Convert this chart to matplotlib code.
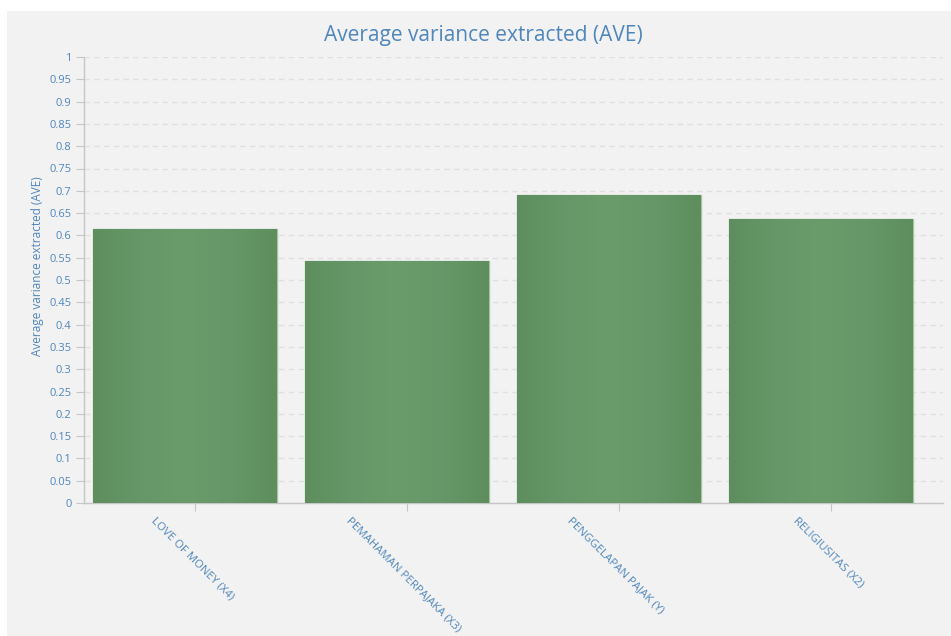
import matplotlib
matplotlib.use("Agg")
import matplotlib.pyplot as plt
import numpy as np
from matplotlib.patches import Rectangle
from matplotlib.transforms import ScaledTranslation

categories = ["LOVE OF MONEY (X4)", "PEMAHAMAN PERPAJAKA (X3)", "PENGGELAPAN PAJAK (Y)", "RELIGIUSITAS (X2)"]
values = [0.614, 0.543, 0.690, 0.637]
yticks = [round(0.05 * i, 2) for i in range(21)]
ytick_labels = ["0"] + [("%g" % t) for t in yticks[1:]]
title = "Average variance extracted (AVE)"
ylabel = "Average variance extracted (AVE)"

plt.rcParams["font.family"] = ["Open Sans", "DejaVu Sans"]
blue = "#4f86bb"
W, H = 951, 636
fig = plt.figure(figsize=(W / 100, H / 100), dpi=100, facecolor="white")
fig.patches.append(Rectangle((7 / W, 0), 1, 1 - 11 / H, transform=fig.transFigure,
                             facecolor="#f2f2f2", edgecolor="none", zorder=-10))

ax = fig.add_axes([84 / W, 1 - 503 / H, (943 - 84) / W, (503 - 57) / H])
ax.set_facecolor("none")

x = np.arange(len(categories))
offset = -10 / 212
width = 184 / 212
cmap = matplotlib.colors.LinearSegmentedColormap.from_list(
    "g", ["#5e8e5e", "#659768", "#699b6b", "#659768", "#5e8e5e"])
grad = np.linspace(0, 1, 200).reshape(1, -1)
bars = ax.bar(x + offset, values, width=width, color="#649668", edgecolor="#a7c5a4",
              linewidth=1.0, zorder=3)
for b in bars:
    im = ax.imshow(grad, cmap=cmap, aspect="auto", zorder=3.5,
                   extent=(b.get_x(), b.get_x() + b.get_width(), 0, b.get_height()))
    im.set_clip_path(b)

ax.set_xlim((84 - 195) / 212, (943 - 195) / 212)
ax.set_ylim(0, 1)
ax.set_yticks(yticks)
ax.set_yticklabels(ytick_labels, fontsize=8, color=blue)
ax.set_xticks(x)
ax.set_xticklabels([])
lbl_tr = ax.get_xaxis_transform() + ScaledTranslation(-0.03, -0.12, fig.dpi_scale_trans)
for xi, cat in zip(x, categories):
    ax.text(xi, 0, cat, transform=lbl_tr, fontsize=8.2, color=blue, rotation=-45,
            ha="center", va="top", clip_on=False)

ax.yaxis.grid(True, color="#e0e0e0", linestyle=(0, (4, 3)), linewidth=1.0, zorder=1)
ax.set_axisbelow(True)
for s in ["top", "right"]:
    ax.spines[s].set_visible(False)
for s in ["left", "bottom"]:
    ax.spines[s].set_color("#c6c6c6")
    ax.spines[s].set_linewidth(1.0)
ax.tick_params(axis="y", length=6, color="#c6c6c6", pad=3)
ax.tick_params(axis="x", length=6, color="#c6c6c6", pad=3)

fig.text(483 / W, 1 - 36 / H, title, ha="center", va="center", fontsize=15, color=blue)
fig.text(38 / W, 1 - 266 / H, ylabel, ha="center", va="center", rotation=90, fontsize=8.5, color=blue)

fig.savefig("out.png", dpi=100, facecolor="white")
